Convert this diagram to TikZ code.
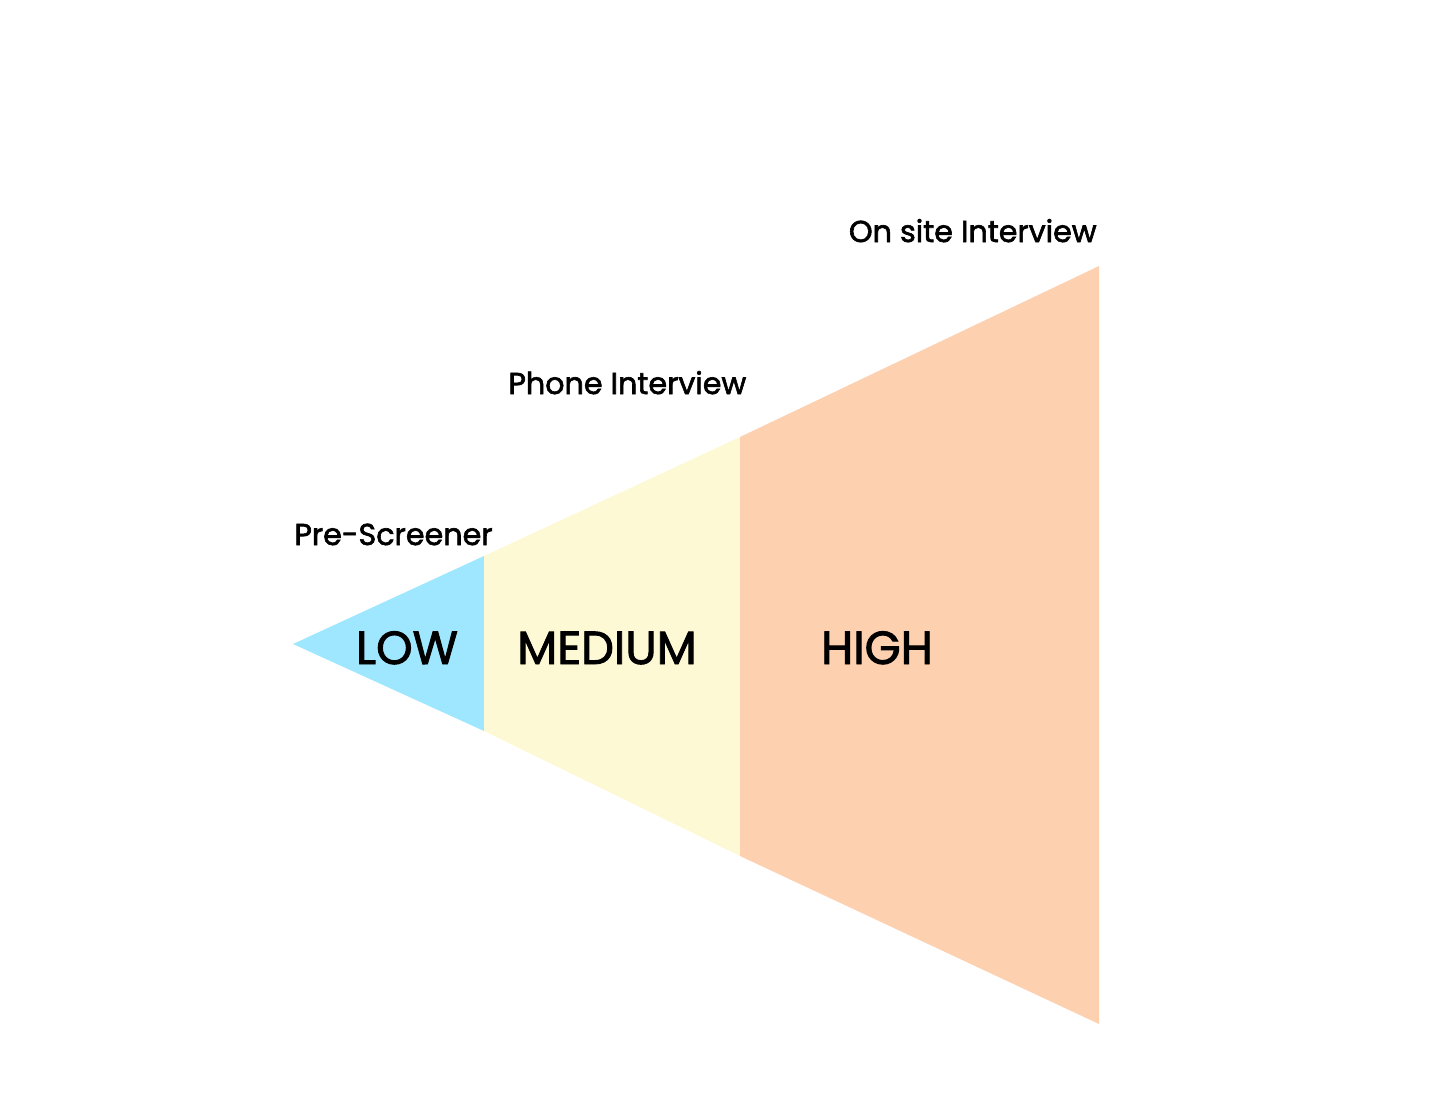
\documentclass[tikz,border=0pt]{standalone}
\usepackage{fontspec}
\setmainfont{Poppins}
\newfontfamily\funnelfont{Poppins}[FakeBold=2]
\usepackage{tikz}
\definecolor{lowblue}{HTML}{9EE7FE}
\definecolor{medyellow}{HTML}{FEF9D5}
\definecolor{highorange}{HTML}{FDD0B0}

\begin{document}
\begin{tikzpicture}[
    x=0.5pt, y=-0.5pt,
    stage/.style={font=\funnelfont\fontsize{15.1}{18}\selectfont, inner sep=0pt},
    level/.style={font=\funnelfont\fontsize{23.2}{28}\selectfont, inner sep=0pt}
]
\useasboundingbox (0,0) rectangle (1456,1114);

% funnel sections
\fill[lowblue] (293,644) -- (484,556) -- (484,731) -- cycle;
\fill[medyellow] (484,556) -- (740,437) -- (740,856) -- (484,731) -- cycle;
\fill[highorange] (740,437) -- (1099,266) -- (1099,1024) -- (740,856) -- cycle;

% stage labels
\node[stage, anchor=base west] (pre) at (294,545) {Pre-Screener};
\node[stage, anchor=base west] (phone) at (508,394) {Phone Interview};
\node[stage, anchor=base east] (onsite) at (1097,242) {On site Interview};

% levels
\node[level, anchor=base] (low) at (407,664) {LOW};
\node[level, anchor=base] (medium) at (607,664) {MEDIUM};
\node[level, anchor=base] (high) at (877,664) {HIGH};
\end{tikzpicture}
\end{document}
